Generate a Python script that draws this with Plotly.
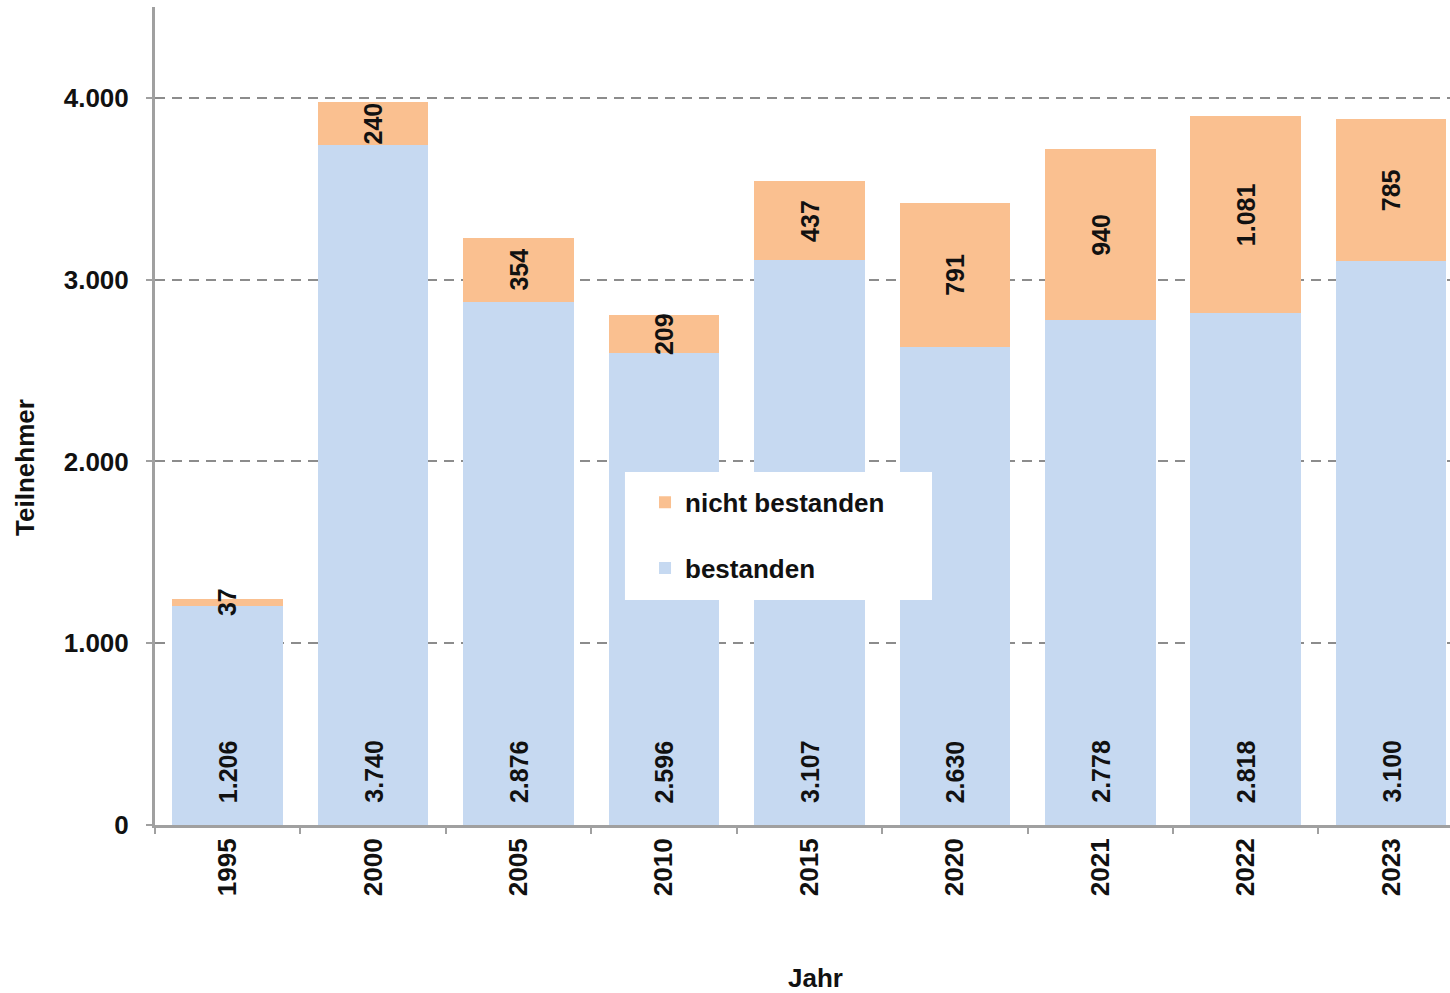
import plotly.graph_objects as go

years = ["1995", "2000", "2005", "2010", "2015", "2020", "2021", "2022", "2023"]
bestanden = [1206, 3740, 2876, 2596, 3107, 2630, 2778, 2818, 3100]
nicht_bestanden = [37, 240, 354, 209, 437, 791, 940, 1081, 785]
y_ticks = [0, 1000, 2000, 3000, 4000]

BLUE = "#C6D9F1"
ORANGE = "#FAC090"
FONT = "Liberation Sans, Arial, sans-serif"


def de(n):
    return f"{n:,}".replace(",", ".")


fig = go.Figure()
fig.add_trace(go.Bar(x=years, y=bestanden, name="bestanden", marker=dict(color=BLUE, line=dict(width=0)),
                     legendgroup="b", legendrank=2, hoverinfo="skip"))
fig.add_trace(go.Bar(x=years, y=nicht_bestanden, name="nicht bestanden",
                     marker=dict(color=ORANGE, line=dict(width=0)), legendgroup="n", legendrank=1,
                     hoverinfo="skip"))

ann = []
for i, (b, n) in enumerate(zip(bestanden, nicht_bestanden)):
    ann.append(dict(x=i, y=0, xref="x", yref="y", text=de(b), textangle=-90, showarrow=False,
                    yanchor="bottom", xanchor="center", yshift=20,
                    font=dict(family=FONT, size=25, color="#111111", weight="bold")))
    ann.append(dict(x=i, y=b + n / 2, xref="x", yref="y", text=de(n), textangle=-90, showarrow=False,
                    yanchor="middle", xanchor="center",
                    font=dict(family=FONT, size=25, color="#111111", weight="bold")))

ann.append(dict(x=0.5097, y=-0.1865, xref="paper", yref="paper", text="Jahr", showarrow=False,
                xanchor="center", yanchor="middle",
                font=dict(family=FONT, size=26, color="#111111", weight="bold")))
ann.append(dict(x=-0.1004, y=0.4377, xref="paper", yref="paper", text="Teilnehmer", showarrow=False,
                textangle=-90, xanchor="center", yanchor="middle",
                font=dict(family=FONT, size=26, color="#111111", weight="bold")))

fig.update_layout(
    width=1450, height=993,
    margin=dict(l=155, r=0, t=7, b=168),
    paper_bgcolor="white", plot_bgcolor="white",
    barmode="stack", bargap=0.24,
    separators=",.",
    annotations=ann,
    shapes=[dict(type="rect", xref="paper", yref="paper", x0=0.3629, x1=0.6, y0=0.2751, y1=0.4315,
                 fillcolor="white", line=dict(width=0), layer="above")],
    legend=dict(x=0.3784, y=0.4233, xanchor="left", yanchor="top", bgcolor="rgba(0,0,0,0)",
                traceorder="grouped", tracegroupgap=29,
                font=dict(family=FONT, size=26, color="#111111", weight="bold")),
    showlegend=True,
)
fig.update_xaxes(type="category", range=[-0.5, 8.405], showline=True, linecolor="#A0A0A0", linewidth=3,
                 ticks="outside", tickson="boundaries", ticklen=6, tickwidth=2, tickcolor="#A0A0A0",
                 tickangle=-90, showgrid=False,
                 tickfont=dict(family=FONT, size=26, color="#111111", weight="bold"))
fig.update_yaxes(range=[0, 4500], tickvals=y_ticks, tickformat=",d", showline=True, linecolor="#A0A0A0",
                 linewidth=3, ticks="outside", ticklen=6, tickwidth=2, tickcolor="#A0A0A0",
                 showgrid=True, gridcolor="#8C8C8C", gridwidth=2, griddash="10px,7px", zeroline=False,
                 ticklabelstandoff=12,
                 tickfont=dict(family=FONT, size=26, color="#111111", weight="bold"))

fig.write_html("out.html")
